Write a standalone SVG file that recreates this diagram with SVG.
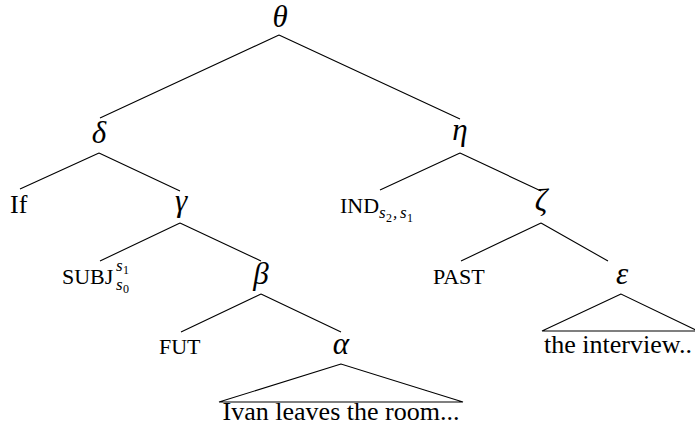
<svg xmlns="http://www.w3.org/2000/svg" width="695" height="430" viewBox="0 0 695 430">
<style>
.t{font-family:"Liberation Serif","Times New Roman",Times,serif;font-size:26px;fill:#000}
.g{font-family:"Liberation Serif","Times New Roman",Times,serif;font-size:31px;font-style:italic;fill:#000}
.sc{font-family:"Liberation Serif","Times New Roman",Times,serif;font-size:22px;fill:#000}
.s{font-family:"Liberation Serif","Times New Roman",Times,serif;font-size:17px;font-style:italic;fill:#000}
.d{font-family:"Liberation Serif","Times New Roman",Times,serif;font-size:12px;fill:#000}
.e{stroke:#000;stroke-width:1.1;fill:none}
</style>
<rect width="695" height="430" fill="#fff"/>
<g id="edges">
<path class="e" d="M279 35L100 118M279 35L460 119"/>
<path class="e" d="M99 153L20 189M99 153L180 191"/>
<path class="e" d="M460 153L380 190M460 153L541 191"/>
<path class="e" d="M180 223L100 261M180 223L261 261"/>
<path class="e" d="M541 223L461 261M541 223L608 261"/>
<path class="e" d="M261 294L181 332M261 294L341 332"/>
<path class="e" d="M341 364L219 402L463 402Z"/>
<path class="e" d="M621 294L542 331L698 331Z"/>
</g>
<g id="theta"><text class="g" x="280" y="27" text-anchor="middle">θ</text></g>
<g id="delta"><text class="g" x="99" y="143" text-anchor="middle">δ</text></g>
<g id="eta"><text class="g" x="460" y="140" text-anchor="middle">η</text></g>
<g id="if"><text class="t" x="10" y="213">If</text></g>
<g id="gamma"><text class="g" x="181" y="211" text-anchor="middle">γ</text></g>
<g id="ind"><text class="sc" x="340" y="213">IND</text><text class="s" x="379" y="218">s</text><text class="d" x="386" y="222">2</text><text class="s" x="393" y="218">,</text><text class="s" x="400" y="218">s</text><text class="d" x="407" y="222">1</text></g>
<g id="zeta"><text class="g" x="541" y="211" text-anchor="middle">ζ</text></g>
<g id="subj"><text class="sc" x="62" y="284">SUBJ</text><text class="s" x="116" y="271">s</text><text class="d" x="123" y="274">1</text><text class="s" x="116" y="290">s</text><text class="d" x="123" y="293">0</text></g>
<g id="beta"><text class="g" x="261" y="284" text-anchor="middle">β</text></g>
<g id="past"><text class="sc" x="433" y="284">PAST</text></g>
<g id="epsilon"><text class="g" x="622" y="284" text-anchor="middle">ε</text></g>
<g id="fut"><text class="sc" x="159" y="354">FUT</text></g>
<g id="alpha"><text class="g" x="341" y="354" text-anchor="middle">α</text></g>
<g id="interview"><text class="t" x="544" y="353" textLength="148" lengthAdjust="spacingAndGlyphs">the interview..</text></g>
<g id="ivan"><text class="t" x="222.5" y="420" textLength="237" lengthAdjust="spacingAndGlyphs">Ivan leaves the room...</text></g>
</svg>
